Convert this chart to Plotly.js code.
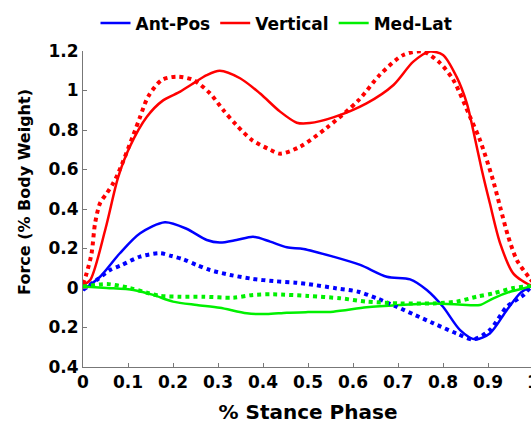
<!DOCTYPE html>
<html>
<head>
<meta charset="utf-8">
<script src="https://cdn.plot.ly/plotly-3.0.1.min.js"></script>
<style>
html,body{margin:0;padding:0;overflow:hidden;background:#fff;}
#chart{width:545px;height:425px;}
</style>
</head>
<body>
<div id="chart"></div>
<script>
// Vertical (solid)
const vertX = [0, 0.016, 0.05, 0.078, 0.104, 0.142, 0.178, 0.216, 0.245, 0.275, 0.304, 0.349, 0.393, 0.438, 0.475, 0.504, 0.556, 0.63, 0.69, 0.734, 0.771, 0.80, 0.83, 0.853, 0.867, 0.886, 0.904, 0.927, 0.956, 0.993, 1.0];
const vertY = [0.015, 0.04, 0.30, 0.56, 0.715, 0.867, 0.95, 0.994, 1.036, 1.078, 1.10, 1.062, 0.986, 0.893, 0.837, 0.835, 0.864, 0.935, 1.028, 1.146, 1.197, 1.18, 1.07, 0.935, 0.80, 0.60, 0.43, 0.226, 0.074, 0.015, 0.015];
// Vertical (dotted)
const vertDX = [0, 0.008, 0.019, 0.027, 0.038, 0.053, 0.067, 0.078, 0.112, 0.127, 0.145, 0.175, 0.208, 0.245, 0.282, 0.312, 0.341, 0.375, 0.416, 0.438, 0.482, 0.541, 0.612, 0.66, 0.712, 0.756, 0.793, 0.823, 0.86, 0.882, 0.91, 0.927, 0.945, 0.964, 0.99, 1.0];
const vertDY = [0.02, 0.074, 0.175, 0.33, 0.43, 0.48, 0.53, 0.58, 0.775, 0.867, 0.97, 1.053, 1.07, 1.053, 0.986, 0.90, 0.825, 0.75, 0.70, 0.68, 0.715, 0.81, 0.95, 1.08, 1.18, 1.197, 1.14, 1.053, 0.867, 0.75, 0.555, 0.41, 0.26, 0.142, 0.057, 0.03];
// Ant-Pos (solid)
const apX = [0, 0.038, 0.082, 0.127, 0.182, 0.23, 0.275, 0.304, 0.341, 0.378, 0.416, 0.453, 0.49, 0.556, 0.616, 0.675, 0.727, 0.764, 0.80, 0.838, 0.871, 0.904, 0.942, 0.971, 0.993, 1.0];
const apY = [-0.01, 0.057, 0.176, 0.277, 0.333, 0.30, 0.243, 0.23, 0.243, 0.26, 0.235, 0.206, 0.198, 0.159, 0.117, 0.057, 0.044, -0.01, -0.095, -0.213, -0.26, -0.23, -0.111, -0.027, 0.007, 0.015];
// Ant-Pos (dotted)
const apDX = [0, 0.03, 0.06, 0.086, 0.127, 0.171, 0.197, 0.223, 0.253, 0.282, 0.327, 0.378, 0.423, 0.475, 0.50, 0.564, 0.612, 0.653, 0.697, 0.738, 0.779, 0.83, 0.867, 0.904, 0.942, 0.979, 0.993, 1.0];
const apDY = [-0.01, 0.04, 0.091, 0.116, 0.159, 0.176, 0.162, 0.145, 0.116, 0.091, 0.066, 0.046, 0.035, 0.027, 0.02, -0.002, -0.019, -0.052, -0.095, -0.137, -0.179, -0.23, -0.26, -0.213, -0.095, -0.035, 0.0, 0.01];
// Med-Lat (solid)
const mlX = [0, 0.053, 0.112, 0.156, 0.2, 0.253, 0.304, 0.364, 0.408, 0.453, 0.50, 0.556, 0.63, 0.704, 0.779, 0.853, 0.882, 0.912, 0.949, 0.993, 1.0];
const mlY = [0.007, 0.0, -0.01, -0.035, -0.069, -0.086, -0.10, -0.128, -0.132, -0.125, -0.122, -0.12, -0.098, -0.086, -0.078, -0.086, -0.086, -0.052, -0.019, 0.007, 0.015];
// Med-Lat (dotted)
const mlDX = [0, 0.053, 0.104, 0.142, 0.171, 0.216, 0.267, 0.334, 0.378, 0.423, 0.50, 0.571, 0.63, 0.704, 0.779, 0.83, 0.875, 0.912, 0.956, 0.993, 1.0];
const mlDY = [0.007, 0.02, 0.0, -0.024, -0.04, -0.044, -0.044, -0.049, -0.035, -0.032, -0.04, -0.052, -0.069, -0.078, -0.078, -0.069, -0.044, -0.027, 0.0, 0.01, 0.015];

const seriesNames = ["Ant-Pos", "Vertical", "Med-Lat"];
const yTickVals = [-0.4, -0.2, 0, 0.2, 0.4, 0.6, 0.8, 1, 1.2];
const yTickText = ["0.4", "0.2", "0", "0.2", "0.4", "0.6", "0.8", "1", "1.2"];
const xTickVals = [0, 0.1, 0.2, 0.3, 0.4, 0.5, 0.6, 0.7, 0.8, 0.9, 1];
const xTickText = ["0", "0.1", "0.2", "0.3", "0.4", "0.5", "0.6", "0.7", "0.8", "0.9", "1"];

const BLUE = "#0000ff", RED = "#ff0000", GREEN = "#00f000";
const dotDash = "4px,4px";

const traces = [
  {x: apX, y: apY, name: seriesNames[0], mode: "lines", line: {color: BLUE, width: 2.5, shape: "spline", smoothing: 0.8}},
  {x: vertX, y: vertY, name: seriesNames[1], mode: "lines", line: {color: RED, width: 2.5, shape: "spline", smoothing: 0.8}},
  {x: mlX, y: mlY, name: seriesNames[2], mode: "lines", line: {color: GREEN, width: 2.5, shape: "spline", smoothing: 0.8}},
  {x: apDX, y: apDY, mode: "lines", showlegend: false, line: {color: BLUE, width: 4, dash: dotDash, shape: "spline", smoothing: 0.8}},
  {x: vertDX, y: vertDY, mode: "lines", showlegend: false, line: {color: RED, width: 4, dash: dotDash, shape: "spline", smoothing: 0.8}},
  {x: mlDX, y: mlDY, mode: "lines", showlegend: false, line: {color: GREEN, width: 4, dash: dotDash, shape: "spline", smoothing: 0.8}}
];

const FONT = "'DejaVu Sans', Arial, sans-serif";
const layout = {
  width: 545, height: 425,
  margin: {l: 83, r: 12, t: 51, b: 58},
  paper_bgcolor: "#ffffff", plot_bgcolor: "#ffffff",
  font: {family: FONT, size: 17, color: "#000", weight: "bold"},
  showlegend: true,
  legend: {orientation: "h", x: 0.43, xanchor: "center", yref: "container", y: 0.945, yanchor: "middle",
           font: {family: FONT, size: 17, weight: "bold"}, itemwidth: 30, tracegroupgap: 0,
           bgcolor: "rgba(0,0,0,0)"},
  xaxis: {range: [0, 1], tickvals: xTickVals, ticktext: xTickText, ticks: "inside", ticklen: 4,
          tickcolor: "#777", showline: true, linecolor: "#777", linewidth: 1, showgrid: false, zeroline: false,
          tickfont: {family: FONT, size: 17, weight: "bold"},
          title: {text: "% Stance Phase", font: {family: FONT, size: 20, weight: "bold"}, standoff: 13}},
  yaxis: {range: [-0.4, 1.2], tickvals: yTickVals, ticktext: yTickText, ticks: "inside", ticklen: 4,
          tickcolor: "#777", showline: true, linecolor: "#777", linewidth: 1, showgrid: false, zeroline: false,
          tickfont: {family: FONT, size: 17, weight: "bold"}},
  annotations: [{text: "Force (% Body Weight)", textangle: -90, xref: "paper", yref: "paper",
                 x: -0.129, y: 0.554, xanchor: "center", yanchor: "middle", showarrow: false,
                 font: {family: FONT, size: 16, weight: "bold"}}]
};
Plotly.newPlot("chart", traces, layout, {displayModeBar: false, staticPlot: true});
</script>
</body>
</html>
